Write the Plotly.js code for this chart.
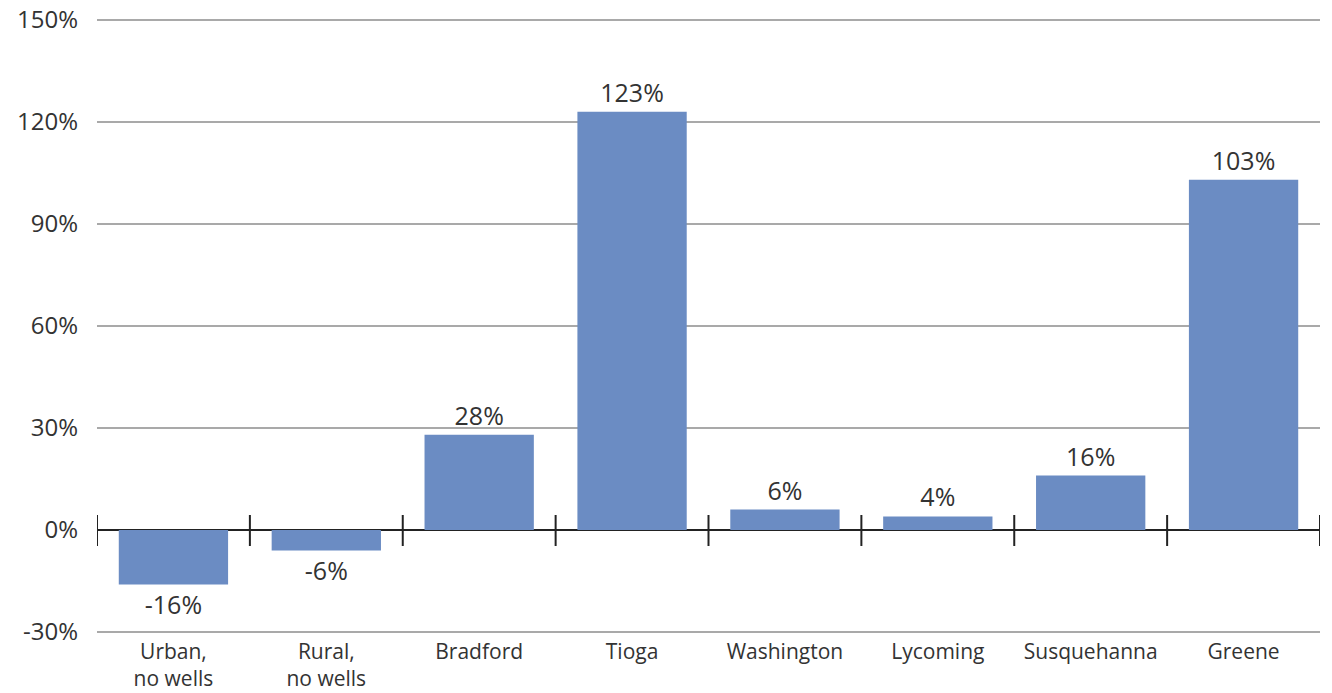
<!DOCTYPE html>
<html>
<head>
<meta charset="utf-8">
<script src="https://cdn.plot.ly/plotly-3.0.1.min.js"></script>
<style>
  html, body { margin: 0; padding: 0; background: #fff; }
  #chart { width: 1332px; height: 693px; }
</style>
</head>
<body>
<div id="chart"></div>
<script>
// Percentage change by area
const categories = ["Urban,<br>no wells", "Rural,<br>no wells", "Bradford", "Tioga",
                    "Washington", "Lycoming", "Susquehanna", "Greene"];
const changePct = [-16, -6, 28, 123, 6, 4, 16, 103];
const yTickVals = [-30, 0, 30, 60, 90, 120, 150];
const yTickText = ["-30%", "0%", "30%", "60%", "90%", "120%", "150%"];

const FONT = "Open Sans, Noto Sans, sans-serif";
const TEXT_COLOR = "#333333";

const trace = {
  type: "bar",
  x: categories.map((_, i) => i),
  y: changePct,
  text: changePct.map(v => v + "%"),
  textposition: "outside",
  cliponaxis: false,
  textfont: { family: FONT, size: 25, color: TEXT_COLOR },
  marker: { color: "#6b8cc3", line: { width: 0 } },
  hoverinfo: "skip"
};

// Short vertical marks crossing the zero line at every category boundary
const boundaryTicks = [];
for (let i = 0; i <= categories.length; i++) {
  boundaryTicks.push({
    type: "line", xref: "x", yref: "y",
    x0: i - 0.5, x1: i - 0.5,
    ysizemode: "pixel", yanchor: 0, y0: -16, y1: 15,
    line: { color: "#222222", width: 2 }
  });
}

const layout = {
  width: 1332, height: 693,
  margin: { l: 97, r: 12, t: 19, b: 60 },
  paper_bgcolor: "#ffffff",
  plot_bgcolor: "#ffffff",
  showlegend: false,
  bargap: 0.285,
  font: { family: FONT, color: TEXT_COLOR },
  xaxis: {
    range: [-0.5, categories.length - 0.5],
    tickvals: categories.map((_, i) => i),
    ticktext: categories,
    ticks: "",
    showgrid: false,
    zeroline: false,
    showline: false,
    ticklabelstandoff: 4,
    tickfont: { family: FONT, size: 21, color: TEXT_COLOR },
    fixedrange: true
  },
  yaxis: {
    range: [-30.3, 150.3],
    tickvals: yTickVals,
    ticktext: yTickText,
    ticks: "",
    showgrid: true,
    gridcolor: "#a9a9a9",
    gridwidth: 1.5,
    zeroline: true,
    zerolinecolor: "#222222",
    zerolinewidth: 2,
    showline: false,
    ticklabelstandoff: 18,
    tickfont: { family: FONT, size: 24, color: TEXT_COLOR },
    fixedrange: true
  },
  shapes: boundaryTicks
};

Plotly.newPlot("chart", [trace], layout, { displayModeBar: false, staticPlot: true });
</script>
</body>
</html>
